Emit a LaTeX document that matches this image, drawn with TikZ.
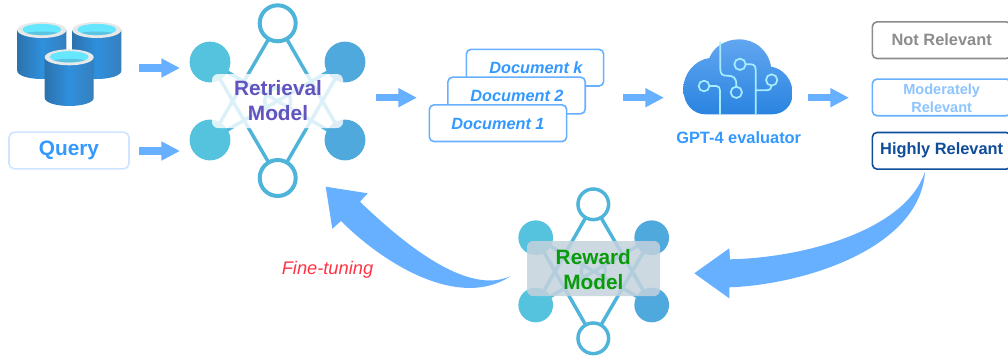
\documentclass[tikz,border=0pt]{standalone}
\usepackage{fontspec}
\setmainfont{Liberation Sans}
\usetikzlibrary{arrows.meta}
\definecolor{arrowblue}{HTML}{66B0FF}
\definecolor{netline}{HTML}{4FB4D9}
\definecolor{netleft}{HTML}{55C3DD}
\definecolor{netright}{HTML}{50A9DC}
\definecolor{docblue}{HTML}{3399FF}
\definecolor{docline}{HTML}{66B0FF}
\definecolor{palebox}{HTML}{CFE5FF}
\definecolor{graybox}{HTML}{8C8C8C}
\definecolor{modblue}{HTML}{8CC4FF}
\definecolor{darkblue}{HTML}{0F4C9A}
\definecolor{retr}{HTML}{6353BE}
\definecolor{rewgreen}{HTML}{0A9B0A}
\definecolor{finered}{HTML}{FF3344}
\definecolor{cirline}{HTML}{A6EDFF}
\definecolor{cylA}{HTML}{2C72AE}
\definecolor{cylB}{HTML}{2F90DC}
\definecolor{cylC}{HTML}{3580BE}
\definecolor{cylrim}{HTML}{E8E8E8}
\definecolor{cyltop}{HTML}{66E6FF}
\definecolor{cyldeep}{HTML}{5CC4E0}
\definecolor{cloudT}{HTML}{62A6F0}
\definecolor{cloudB}{HTML}{2A84E0}
\definecolor{boxgray}{HTML}{C4D2DC}
\tikzset{
  blockarrow/.style={draw=arrowblue,line width=5.6pt,-{Triangle[length=14pt,width=13.5pt]}},
  bigarrow/.style={fill=arrowblue,draw=none},
  netlink/.style={draw=netline,line width=2.6pt},
  fillnodeL/.style={circle,fill=netleft,draw=none,inner sep=0pt},
  fillnodeR/.style={circle,fill=netright,draw=none,inner sep=0pt},
  ringnode/.style={circle,fill=white,draw=netline,inner sep=0pt},
  docbox/.style={draw=docline,fill=white,line width=1.2pt,rounded corners=3.5pt,minimum width=103pt,minimum height=27.5pt,inner sep=0pt},
  doctext/.style={text=docblue,font=\fontsize{12.2pt}{14pt}\selectfont\bfseries\itshape},
  gradebox/.style={fill=white,line width=1.2pt,rounded corners=3.5pt,inner sep=0pt},
  gradetext/.style={font=\fontsize{12.3pt}{14pt}\selectfont\bfseries,align=center},
  nettext/.style={font=\fontsize{15.6pt}{18.8pt}\selectfont\bfseries,align=center},
  cirstroke/.style={draw=cirline,line width=1.3pt},
}
\newcommand{\mycyl}[3]{% left x, top cy, bottom cy
  \path[left color=cylA,right color=cylC,middle color=cylB]
    (#1,#2) -- ++(49,0) -- (#1+49,#3) arc[start angle=0,end angle=180,x radius=24.5,y radius=8] -- cycle;
  \fill[cylrim] (#1+24.5,#2) ellipse[x radius=24.5,y radius=8];
  \begin{scope}
    \clip (#1+24.5,#2-0.5) ellipse[x radius=19.5,y radius=5.6];
    \fill[cyltop] (#1,#2-7) rectangle (#1+49,#2+7);
    \fill[cyldeep] (#1+24.5,#2+7) ellipse[x radius=24,y radius=5.5];
  \end{scope}
}
\begin{document}
\begin{tikzpicture}[x=0.75pt,y=-0.75pt]
\useasboundingbox (0,0) rectangle (1008,358);
% cylinders
\mycyl{17.3}{30}{71}
\mycyl{72.3}{30}{71}
\mycyl{44.7}{57.3}{98}
% query
\node[draw=palebox,fill=white,line width=1.2pt,rounded corners=4pt,minimum width=90pt,minimum height=27.5pt,inner sep=0pt,text=docblue,font=\fontsize{15.6pt}{18pt}\selectfont\bfseries] (query) at (69,150.5) {Query};
% arrows left
\coordinate (a1s) at (139,68); \coordinate (a1e) at (180,68);
\coordinate (a2s) at (139,151); \coordinate (a2e) at (180,151);
\coordinate (a3s) at (376,97.7); \coordinate (a3e) at (417,97.7);
\coordinate (a4s) at (623,97.7); \coordinate (a4e) at (664,97.7);
\coordinate (a5s) at (807.7,97.7); \coordinate (a5e) at (849,97.7);
\foreach \i in {1,...,5} \draw[blockarrow] (a\i s) -- (a\i e);
% retrieval network
\coordinate (rl1c) at (210,62); \coordinate (rl2c) at (210,140);
\coordinate (rr1c) at (345,62); \coordinate (rr2c) at (345,140);
\coordinate (rtc) at (277.7,23.3); \coordinate (rbc) at (277.7,178);
\draw[netline,line width=2.6pt] (277.7,101) circle[radius=13];
\draw[netlink] (rtc) -- (rl2c) (rtc) -- (rr2c) (rbc) -- (rl1c) (rbc) -- (rr1c) (rl1c) -- (rr2c) (rl2c) -- (rr1c);
\node[fillnodeL,minimum size=30.6pt] (rl1) at (rl1c) {};
\node[fillnodeL,minimum size=30.6pt] (rl2) at (rl2c) {};
\node[fillnodeR,minimum size=30.6pt] (rr1) at (rr1c) {};
\node[fillnodeR,minimum size=30.6pt] (rr2) at (rr2c) {};
\node[ringnode,minimum size=27pt,line width=3pt] (rt) at (rtc) {};
\node[ringnode,minimum size=27pt,line width=3pt] (rb) at (rbc) {};
\fill[white,opacity=.8,rounded corners=4.5pt] (212,74) rectangle (343,128);
\node[nettext,text=retr] (retrieval) at (278,101) {Retrieval\\Model};
% documents
\node[docbox] (dk) at (535,67.7) {};
\node[doctext,anchor=center] (dkt) at (536,67.4) {Document k};
\node[docbox] (d2) at (516.6,95.5) {};
\node[doctext] (d2t) at (517,95.6) {Document 2};
\node[docbox] (d1) at (498,123.2) {};
\node[doctext] (d1t) at (498,123.6) {Document 1};
% cloud
\begin{scope}[shift={(675,30)},x=0.25pt,y=-0.25pt]
\path[top color=cloudT,bottom color=cloudB] (92,253)
  .. controls (54,253) and (25,222) .. (25,177)
  .. controls (25,130) and (60,90) .. (103,84)
  .. controls (115,52) and (150,28) .. (192,28)
  .. controls (240,28) and (280,60) .. (288,110)
  .. controls (325,115) and (353,150) .. (353,190)
  .. controls (353,228) and (325,253) .. (290,253) -- cycle;
\path[cirstroke] (136,35) -- (136,118) .. controls (136,132) and (142,137) .. (155,137)
  .. controls (175,137) and (184,142) .. (184,165) -- (184,170);
\draw[cirstroke] (184,187) circle[radius=17];
\path[cirstroke] (212,103) -- (228,103) .. controls (238,103) and (242,110) .. (242,120) -- (242,253);
\draw[cirstroke] (195,103) circle[radius=17];
\path[cirstroke] (104,168) -- (124,168) .. controls (132,168) and (135,174) .. (135,182) -- (135,253);
\draw[cirstroke] (87,168) circle[radius=16];
\path[cirstroke] (242,181) -- (272,181) .. controls (285,181) and (290,175) .. (290,166);
\draw[cirstroke] (290,150) circle[radius=17];
\end{scope}
\node[text=docblue,font=\fontsize{12.3pt}{14pt}\selectfont\bfseries] (gpt) at (738.7,138) {GPT-4 evaluator};
% grades
\begin{scope}
\clip (0,0) rectangle (1008,358);
\node[gradebox,draw=graybox,minimum width=104pt,minimum height=27.5pt] (g1) at (941.7,40.2) {};
\node[gradebox,draw=docline,minimum width=104pt,minimum height=27.5pt] (g2) at (941.7,97.4) {};
\node[gradebox,draw=darkblue,minimum width=104pt,minimum height=27.5pt] (g3) at (941.7,150.8) {};
\end{scope}
\node[gradetext,text=graybox] (g1t) at (941.7,40) {Not Relevant};
\node[text=modblue,font=\fontsize{10.9pt}{13.5pt}\selectfont\bfseries,align=center] (g2t) at (941.7,98) {Moderately\\Relevant};
\node[gradetext,text=darkblue] (g3t) at (941.7,150) {Highly Relevant};
% curved arrows
\path[bigarrow] (925,171.7)
  .. controls (920,250) and (800,285) .. (729.3,287.3)
  -- (729.3,298.3) -- (694.3,273.3) -- (729.3,248.3) -- (730,259.3)
  .. controls (800,258) and (905,232) .. (925,171.7) -- cycle;
\path[bigarrow] (510.7,276)
  .. controls (470,295) and (410,250) .. (360,201.7)
  -- (367.7,193.3) -- (325.7,186.7) -- (332.3,228.7) -- (341,221)
  .. controls (385,265) and (460,310) .. (510.7,276) -- cycle;
\node[text=finered,font=\fontsize{13.7pt}{16pt}\selectfont\itshape] (fine) at (327.5,270) {Fine-tuning};
% reward network
\coordinate (wl1c) at (535.7,237.7); \coordinate (wl2c) at (535.7,305);
\coordinate (wr1c) at (651.7,237.7); \coordinate (wr2c) at (651.7,305);
\coordinate (wtc) at (593.3,204.3); \coordinate (wbc) at (593.3,338.3);
\draw[netline,line width=2.4pt] (593.3,271) circle[radius=12];
\draw[netlink] (wtc) -- (wl2c) (wtc) -- (wr2c) (wbc) -- (wl1c) (wbc) -- (wr1c) (wl1c) -- (wr2c) (wl2c) -- (wr1c);
\node[fillnodeL,minimum size=26pt] (wl1) at (wl1c) {};
\node[fillnodeL,minimum size=26pt] (wl2) at (wl2c) {};
\node[fillnodeR,minimum size=26pt] (wr1) at (wr1c) {};
\node[fillnodeR,minimum size=26pt] (wr2) at (wr2c) {};
\node[ringnode,minimum size=23pt,line width=2.6pt] (wt) at (wtc) {};
\node[ringnode,minimum size=23pt,line width=2.6pt] (wb) at (wbc) {};
\fill[fill=boxgray,opacity=.85,rounded corners=4.5pt] (527,241) rectangle (660,296);
\node[nettext,text=rewgreen] (reward) at (593.3,269.5) {Reward\\Model};
\end{tikzpicture}
\end{document}
